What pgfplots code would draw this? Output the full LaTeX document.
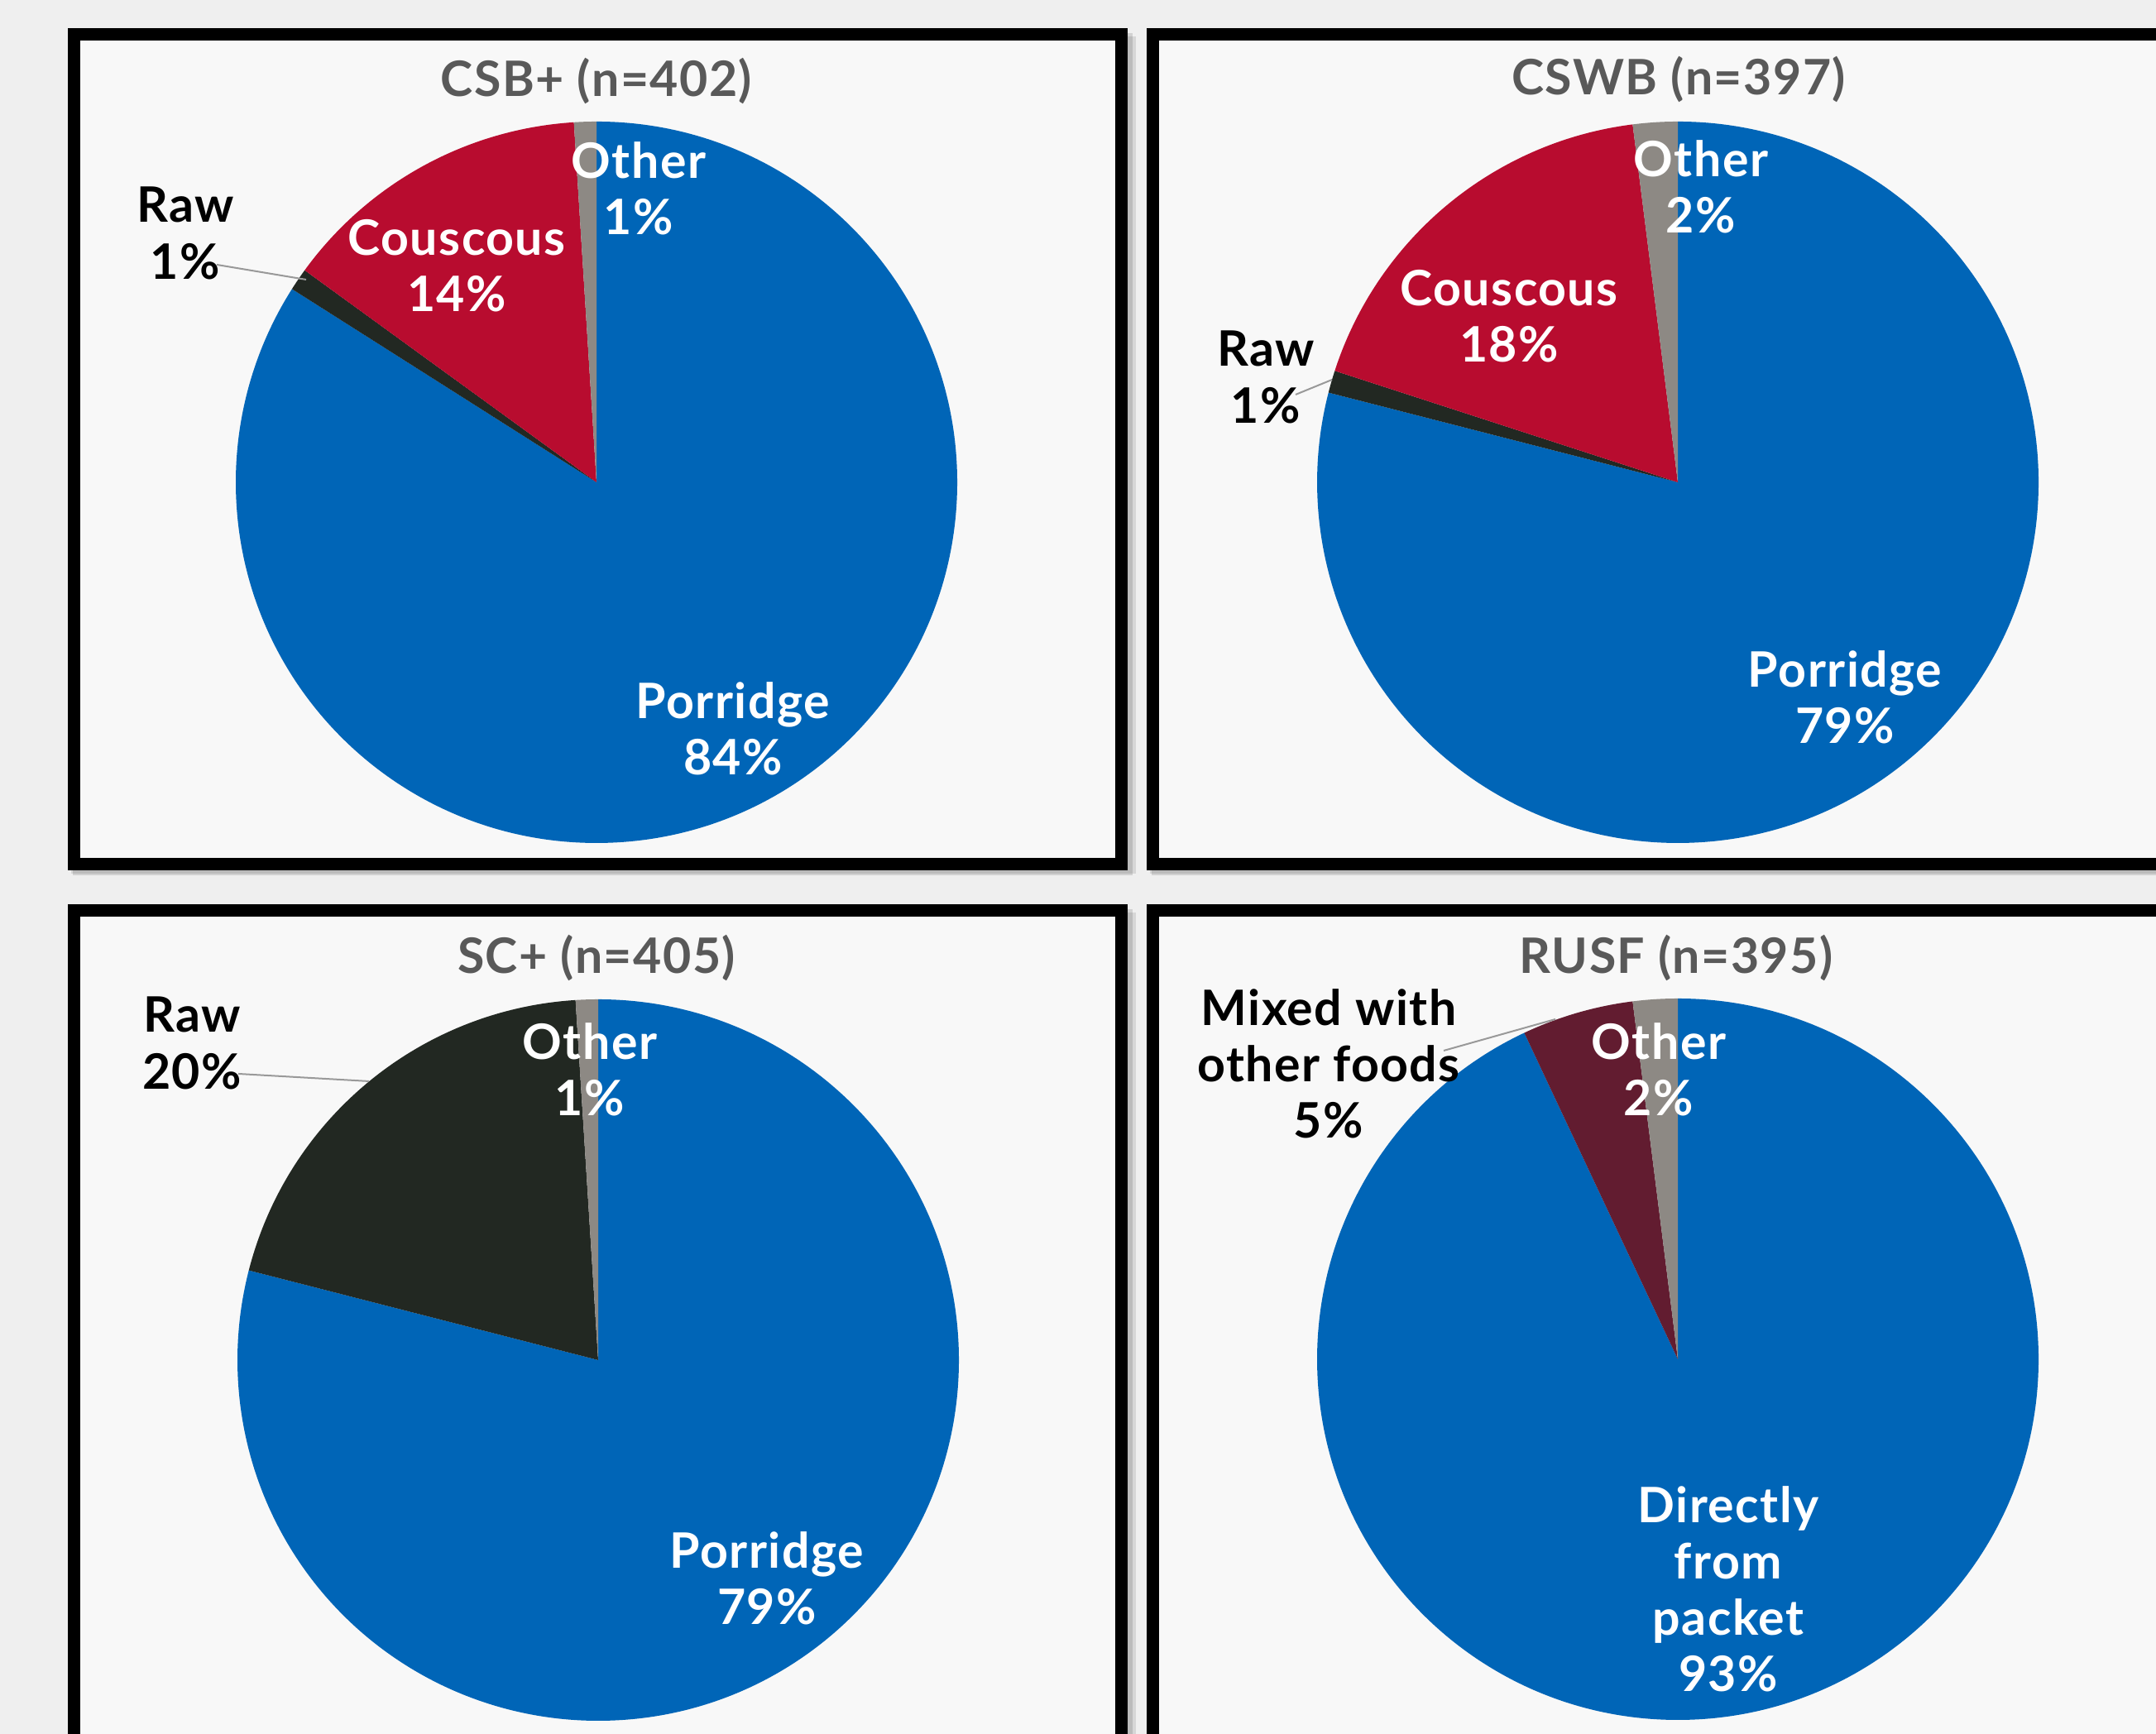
\documentclass[border=0pt]{standalone}
\usepackage{pgfplots}
\pgfplotsset{compat=1.18}
\usepackage{fontspec}
\setmainfont{Lato}[LetterSpace=2.5]
\definecolor{bgout}{HTML}{EFEFEF}
\definecolor{bgin}{HTML}{F8F8F8}
\definecolor{pblue}{HTML}{0065B7}
\definecolor{pred}{HTML}{B80C2F}
\definecolor{praw}{HTML}{222822}
\definecolor{pother}{HTML}{8D8984}
\definecolor{pmixed}{HTML}{621C30}
\definecolor{ptitle}{HTML}{595959}
% \slice{cx}{cy}{cumulative start %}{value %}{colour}
\newcommand{\slice}[5]{%
  \fill[#5] (axis cs:#1,#2) -- (axis cs:{#1+436*cos(90-3.6*#3)},{#2+436*sin(90-3.6*#3)})
    arc[start angle={90-3.6*#3}, delta angle={-3.6*#4}, radius=436] -- cycle;}
\newcommand{\panel}[4]{%
  \fill[black, opacity=0.10] (axis cs:#1+4,#2-10) rectangle (axis cs:#3+10,#4-4);
  \fill[black, opacity=0.12] (axis cs:#1+6,#2-6) rectangle (axis cs:#3+6,#4-6);
  \filldraw[fill=bgin, draw=black, line width=0.15cm] (axis cs:#1+7.5,#2-7.5) rectangle (axis cs:#3-7.5,#4+7.5);}
\tikzset{lab/.style={font=\fontsize{16.8}{19.4}\selectfont\bfseries, align=center, inner sep=0pt},
  ttl/.style={font=\fontsize{16.8}{19.4}\selectfont\bfseries, text=ptitle, inner sep=0pt}}
\begin{document}
\begin{tikzpicture}
\useasboundingbox (0,0) rectangle (26.06cm,20.96cm);
\fill[bgout] (0,0) rectangle (26.06cm,20.96cm);
\begin{axis}[at={(0,0)}, anchor=south west, width=26.06cm, height=20.96cm, scale only axis,
  xmin=0, xmax=2606, ymin=0, ymax=2096, hide axis, clip=true, disabledatascaling]
% panels: x left, y top, x right, y bottom (y measured upward)
\panel{82}{2062}{1363}{1044}
\panel{1386}{2062}{2720}{1044}
\panel{82}{1003}{1363}{-120}
\panel{1386}{1003}{2720}{-120}
% CSB+ (n=402): Porridge 84, Raw 1, Couscous 14, Other 1
\slice{721}{1513}{0}{84}{pblue}
\slice{721}{1513}{84}{1}{praw}
\slice{721}{1513}{85}{14}{pred}
\slice{721}{1513}{99}{1}{pother}
% CSWB (n=397): Porridge 79, Raw 1, Couscous 18, Other 2
\slice{2028}{1513}{0}{79}{pblue}
\slice{2028}{1513}{79}{1}{praw}
\slice{2028}{1513}{80}{18}{pred}
\slice{2028}{1513}{98}{2}{pother}
% SC+ (n=405): Porridge 79, Raw 20, Other 1
\slice{723}{452}{0}{79}{pblue}
\slice{723}{452}{79}{20}{praw}
\slice{723}{452}{99}{1}{pother}
% RUSF (n=395): Directly from packet 93, Mixed 5, Other 2
\slice{2028}{453}{0}{93}{pblue}
\slice{2028}{453}{93}{5}{pmixed}
\slice{2028}{453}{98}{2}{pother}
% leader lines
\draw[black!40, line width=0.02cm] (axis cs:262,1776) -- (axis cs:370,1758);
\draw[black!40, line width=0.02cm] (axis cs:1566,1619) -- (axis cs:1610,1637);
\draw[black!40, line width=0.02cm] (axis cs:288,798) -- (axis cs:446,789);
\draw[black!40, line width=0.02cm] (axis cs:1745,826) -- (axis cs:1880,864);
% titles
\node[ttl] at (axis cs:721,1998) {CSB+ (n=402)};
\node[ttl] at (axis cs:2029,2000) {CSWB (n=397)};
\node[ttl] at (axis cs:721,938) {SC+ (n=405)};
\node[ttl] at (axis cs:2026,938) {RUSF (n=395)};
% labels
\node[lab, text=white] at (axis cs:772,1868) {Other\\1\%};
\node[lab, text=black] at (axis cs:224,1814) {Raw\\1\%};
\node[lab, text=white] at (axis cs:552,1775) {Couscous\\14\%};
\node[lab, text=white] at (axis cs:886,1215) {Porridge\\84\%};
\node[lab, text=white] at (axis cs:2056,1870) {Other\\2\%};
\node[lab, text=white] at (axis cs:1824,1714) {Couscous\\18\%};
\node[lab, text=black] at (axis cs:1530,1640) {Raw\\1\%};
\node[lab, text=white] at (axis cs:2230,1253) {Porridge\\79\%};
\node[lab, text=black] at (axis cs:232,835) {Raw\\20\%};
\node[lab, text=white] at (axis cs:713,803) {Other\\1\%};
\node[lab, text=white] at (axis cs:927,188) {Porridge\\79\%};
\node[lab, text=black] at (axis cs:1606,810) {Mixed with\\other foods\\5\%};
\node[lab, text=white] at (axis cs:2005,803) {Other\\2\%};
\node[lab, text=white] at (axis cs:2089,175) {Directly\\from\\packet\\93\%};
\end{axis}
\end{tikzpicture}
\end{document}
